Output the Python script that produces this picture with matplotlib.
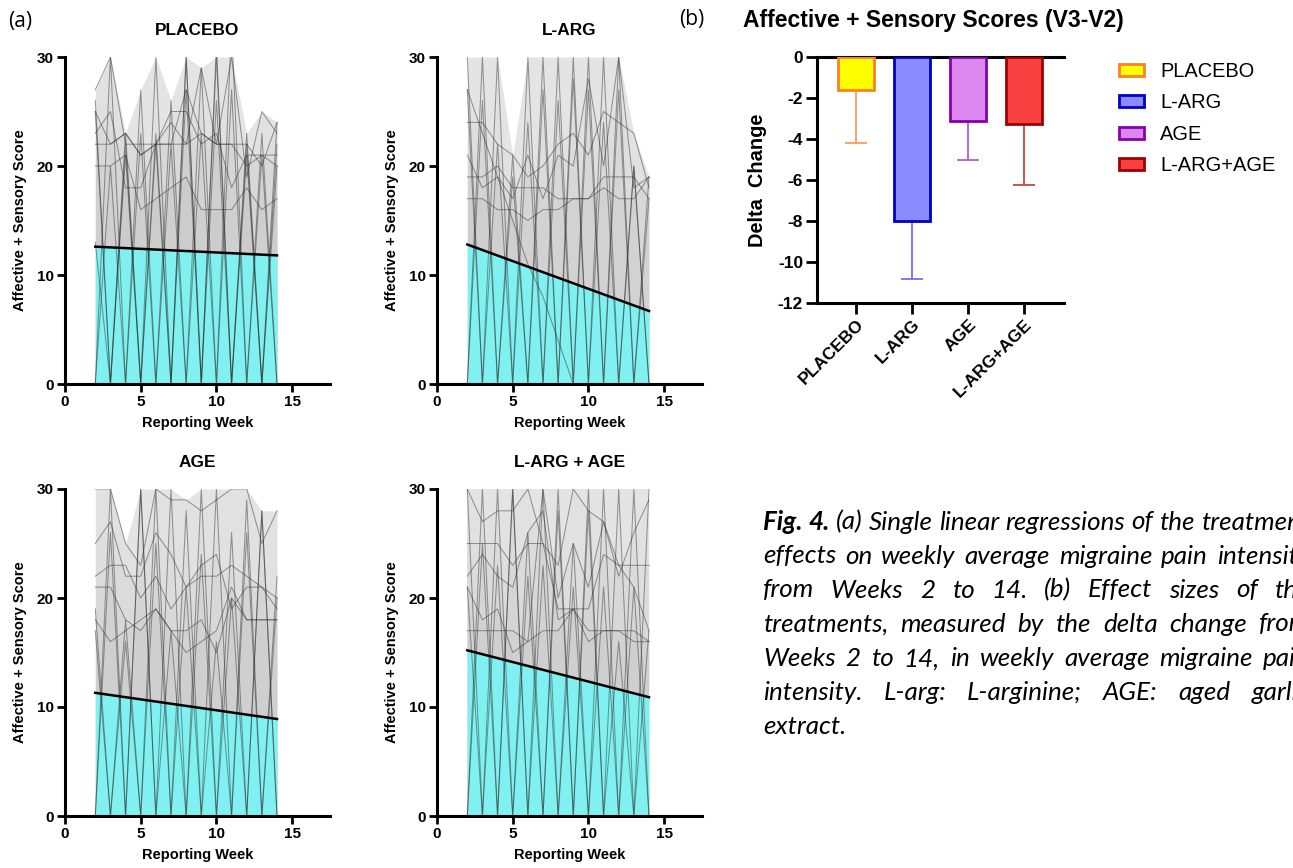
import numpy as np
import matplotlib.pyplot as plt
from matplotlib.patches import Patch

plt.rcParams['font.family'] = 'Liberation Sans'
plt.rcParams['axes.unicode_minus'] = False

W, H = 1293, 868
weeks = np.arange(2, 15)
nan = np.nan

# weekly scores per subject (>30 is off-scale)
placebo = [
    [22, 22, 23, 21, 22, 22, 22, 23, 22, 22, 20, 21, 20],
    [20, 20, 21, 16, 17, 18, 19, 16, 16, 16, 18, 16, 17],
    [23, 25, 18, 18, 22, 25, 25, 22, 23, 18, 21, 21, 21],
    [27, 30, 22, 22, 22, 22, 27, 23, 22, 22, 22, 20, 24],
    [25, 22, 23, 21, 22, 24, 22, 29, 22, 30, 19, 25, 23],
    [0, 30, 0, 27, 0, 26, 0, 29, 0, 33, 0, 23, 0],
    [26, 0, 23, 0, 30, 0, 30, 0, 30, 0, 22, 0, 24],
    [0, 20, 0, 23, 0, 22, 0, 23, 0, 27, 0, 21, 0],
    [25, 0, 21, 0, 23, 0, 27, 0, 26, 0, 23, 0, 22],
    [13, 0, 22, 0, 22, 0, 30, 0, 31, 0, 21, 0, 20],
]
larg = [
    [24, 24, 22, 21, 19, 20, 22, 23, 21, 25, 24, 23, 18],
    [19, 19, 20, 18, 18, 18, 17, 17, 17, 19, 19, 19, 17],
    [17, 17, 16, 16, 15, 16, 16, 17, 17, 18, 17, 17, 19],
    [21, 18, 19, 17, 21, 17, 21, 20, 28, 20, 30, 18, 19],
    [0, 26, 0, 21, 0, 27, 0, 28, 0, 30, 0, 20, 0],
    [30, 0, 22, 0, 24, 0, 26, 0, 30, 0, 30, 0, 19],
    [0, 30, 0, 19, 0, 30, 0, 30, 0, 24, 0, 20, 0],
    [27, 0, 30, 0, 30, 0, 30, 0, 27, 0, 27, 0, 17],
    [27, 23, 19, 15, 11, 8, 4, 0, nan, nan, nan, nan, nan],
]
age = [
    [22, 23, 23, 20, 22, 19, 21, 22, 22, 23, 22, 21, 19],
    [21, 21, 18, 17, 19, 17, 17, 18, 15, 20, 18, 18, 18],
    [25, 27, 22, 22, 26, 24, 21, 23, 24, 19, 21, 21, 20],
    [18, 16, 17, 18, 19, 17, 15, 16, 17, 21, 18, 18, 18],
    [30, 30, 25, 23, 30, 29, 29, 28, 29, 30, 30, 25, 28],
    [0, 30, 0, 30, 0, 30, 0, 30, 0, 26, 0, 28, 0],
    [19, 0, 18, 0, 30, 0, 28, 0, 16, 0, 29, 0, 22],
    [0, 26, 0, 30, 0, 17, 0, 24, 0, 20, 0, 28, 0],
    [17, 0, 16, 0, 25, 0, 21, 0, 30, 0, 26, 0, 20],
]
larg_age = [
    [25, 25, 25, 23, 25, 25, 19, 19, 19, 24, 23, 23, 23],
    [17, 17, 17, 17, 16, 17, 17, 19, 17, 17, 17, 17, 16],
    [22, 24, 22, 21, 26, 28, 18, 19, 16, 17, 17, 16, 16],
    [30, 27, 28, 28, 30, 25, 23, 30, 28, 27, 22, 26, 29],
    [21, 18, 19, 15, 16, 30, 20, 25, 21, 27, 23, 21, 17],
    [0, 30, 0, 30, 0, 30, 0, 25, 0, 30, 0, 30, 0],
    [30, 0, 23, 0, 26, 0, 28, 0, 30, 0, 30, 0, 30],
    [0, 25, 0, 30, 0, 23, 0, 21, 0, 21, 0, 21, 0],
    [21, 0, 30, 0, 22, 0, 30, 0, 28, 0, 16, 0, 17],
]

# regression line at week 2 and week 14
reg_placebo = [12.6, 11.8]
reg_larg = [12.8, 6.7]
reg_age = [11.3, 8.9]
reg_larg_age = [15.2, 10.9]

panel_titles = ['PLACEBO', 'L-ARG', 'AGE', 'L-ARG + AGE']

# bar chart (b)
groups = ['PLACEBO', 'L-ARG', 'AGE', 'L-ARG+AGE']
delta_mean = [-1.6, -8.0, -3.1, -3.25]
delta_err = [2.6, 2.85, 1.9, 3.0]
bar_face = ['#ffff00', '#8c8cff', '#dd88f0', '#f84040']
bar_edge = ['#ff7f27', '#0000cc', '#8800aa', '#a00000']
err_color = ['#ff9a5c', '#6f6fff', '#b060d0', '#c04848']

caption_lines = [
    'Fig. 4. (a) Single linear regressions of the treatment',
    'effects on weekly average migraine pain intensity',
    'from Weeks 2 to 14. (b) Effect sizes of the',
    'treatments, measured by the delta change from',
    'Weeks 2 to 14, in weekly average migraine pain',
    'intensity. L-arg: L-arginine; AGE: aged garlic',
    'extract.',
]

fig = plt.figure(figsize=(W / 100, H / 100), dpi=100)


def rect(x0, y0, x1, y1):
    return [x0 / W, 1 - y1 / H, (x1 - x0) / W, (y1 - y0) / H]


def draw_panel(ax, series, reg, title):
    data = np.array(series, dtype=float)
    top = np.minimum(np.nanmax(data, axis=0), 30)
    ax.fill_between(weeks, 0, top, color='#e4e4e4', lw=0)
    for s in data:
        ax.fill_between(weeks, 0, np.nan_to_num(s), color='k', alpha=0.012, lw=0)
    ends = weeks[[0, -1]]
    ax.fill_between(ends, 0, reg, color='#80f0f0', lw=0, zorder=2)
    for s in data:
        ax.plot(weeks, s, color='#2a2a2a', lw=0.75, alpha=0.45, zorder=3)
    ax.plot(ends, reg, color='k', lw=1.8, zorder=4)

    ax.set_xlim(0, 17.5)
    ax.set_ylim(0, 30)
    ax.set_xticks([0, 5, 10, 15])
    ax.set_yticks([0, 10, 20, 30])
    for side in ['top', 'right']:
        ax.spines[side].set_visible(False)
    for side in ['left', 'bottom']:
        ax.spines[side].set_linewidth(2.2)
    ax.tick_params(length=6, width=2, labelsize=11, pad=2)
    for lab in ax.get_xticklabels() + ax.get_yticklabels():
        lab.set_fontweight('bold')
    ax.set_title(title, fontsize=12.4, fontweight='bold', pad=16)
    ax.set_xlabel('Reporting Week', fontsize=10.5, fontweight='bold', labelpad=5)
    ax.set_ylabel('Affective + Sensory Score', fontsize=10.5, fontweight='bold', labelpad=7)


panels = [
    (rect(65, 57, 330, 384), placebo, reg_placebo),
    (rect(437, 57, 702, 384), larg, reg_larg),
    (rect(65, 489, 330, 816), age, reg_age),
    (rect(437, 489, 702, 816), larg_age, reg_larg_age),
]
for (pos, series, reg), title in zip(panels, panel_titles):
    ax = fig.add_axes(pos)
    draw_panel(ax, series, reg, title)

fig.text(8 / W, 1 - 22 / H, '(a)', fontsize=15, family='Open Sans', va='center')
fig.text(679 / W, 1 - 20 / H, '(b)', fontsize=15, family='Open Sans', va='center')

# bar chart
axb = fig.add_axes(rect(817, 57, 1064, 303))
x = np.arange(len(groups))
axb.bar(x, delta_mean, width=0.64, color=bar_face, edgecolor=bar_edge, linewidth=2, zorder=3)
for i in range(len(groups)):
    axb.errorbar(x[i], delta_mean[i], yerr=[[delta_err[i]], [0]], color=err_color[i],
                 lw=1.3, capsize=8, capthick=1.3, zorder=2)
axb.set_xlim(-0.7, 3.71)
axb.set_ylim(-12, 0)
axb.set_yticks(np.arange(-12, 1, 2))
axb.set_xticks(x)
axb.set_xticklabels(groups, rotation=45, ha='right', rotation_mode='anchor',
                    fontsize=13.5, fontweight='bold')
for lab in axb.get_yticklabels():
    lab.set_fontweight('bold')
axb.spines['right'].set_visible(False)
for side in ['left', 'bottom', 'top']:
    axb.spines[side].set_linewidth(2.2)
axb.tick_params(length=8, width=2, labelsize=12.5, pad=2)
axb.set_ylabel('Delta  Change', fontsize=14.4, fontweight='bold', labelpad=8)
fig.text(743 / W, 1 - 20 / H, 'Affective + Sensory Scores (V3-V2)', fontsize=16.5,
         fontweight='bold', va='center')

handles = [Patch(facecolor=f, edgecolor=e, linewidth=2) for f, e in zip(bar_face, bar_edge)]
fig.legend(handles, groups, loc='upper left', bbox_to_anchor=(1119 / W, 1 - 62 / H),
           frameon=False, fontsize=14.4, handlelength=1.25, handleheight=0.55,
           labelspacing=0.62, handletextpad=0.8, borderpad=0, borderaxespad=0)

# caption, justified word by word
fig.canvas.draw()
renderer = fig.canvas.get_renderer()
x0, x1 = 763, 1310
probe = fig.text(0, 0, caption_lines[0], fontsize=14, family='Lato', style='italic')
cap_size = 14 * (x1 - x0) / probe.get_window_extent(renderer).width
probe.remove()
line_y = [522, 556, 590, 624, 659, 693, 727]
for n, (line, yy) in enumerate(zip(caption_lines, line_y)):
    words = line.split(' ')
    texts = []
    for k, w in enumerate(words):
        bold = n == 0 and k < 2
        t = fig.text(0, 1 - yy / H, w, fontsize=cap_size, family='Lato', style='italic',
                     fontweight='bold' if bold else 'normal', va='center')
        texts.append(t)
    widths = [t.get_window_extent(renderer).width for t in texts]
    if n < len(caption_lines) - 1:
        gap = (x1 - x0 - sum(widths)) / (len(words) - 1)
    else:
        gap = cap_size * 0.35
    xx = x0
    for t, w in zip(texts, widths):
        t.set_x(xx / W)
        xx += w + gap

fig.savefig('out.png', dpi=100)
